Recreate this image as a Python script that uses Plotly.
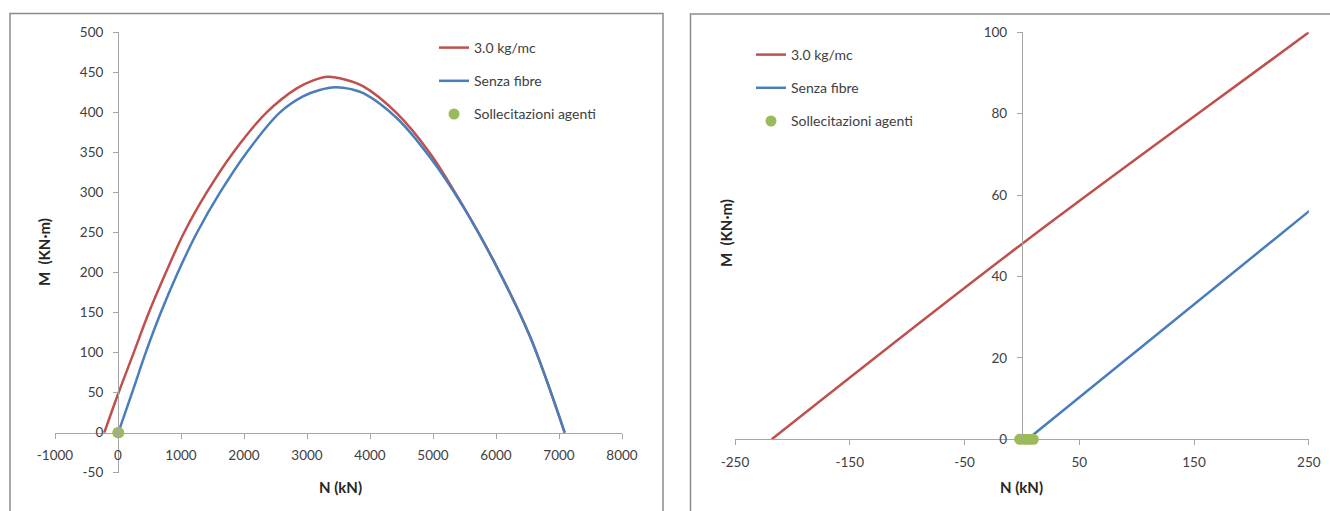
import plotly.graph_objects as go

W, H = 1330, 511

# M-N interaction domain, N in kN, M in kN·m
n_fibre = [-218, 0, 250, 490, 760, 1050, 1408, 1830, 2360, 2837, 3100, 3330, 3600, 3894, 4424, 4952, 5481, 6011, 6540, 7090]
m_fibre = [0, 48, 100, 150, 200, 250, 300, 350, 400, 430, 440, 444.5, 441, 432.5, 399, 349, 282.5, 207.5, 120, 0]

n_plain = [5, 250, 440, 680, 950, 1255, 1620, 2043, 2571, 2937, 3200, 3450, 3700, 3894, 4424, 4952, 5481, 6011, 6540, 7090]
m_plain = [0, 56, 100, 150, 200, 250, 300, 350, 400, 420, 428, 431.5, 429, 424, 393, 344, 282, 207, 120, 0]

# acting loads
n_loads = [-2, 1, 4, 7, 10]
m_loads = [0, 0, 0, 0, 0]

names = ["3.0 kg/mc", "Senza fibre", "Sollecitazioni agenti"]

# tick values and labels
ticks_n_full = [-1000, 0, 1000, 2000, 3000, 4000, 5000, 6000, 7000, 8000]
ticks_m_full = [-50, 0, 50, 100, 150, 200, 250, 300, 350, 400, 450, 500]
ticks_n_zoom = [-250, -150, -50, 50, 150, 250]
ticks_m_zoom = [0, 20, 40, 60, 80, 100]

RED, BLUE, GREEN = "#C0504D", "#4A7EBB", "#9BBB59"
FONT = "Lato, 'Open Sans', sans-serif"
TICK_COLOR = "#404040"
AXIS_COLOR = "#A6A6A6"


def px(x):
    return x / W


def py(y):
    return 1 - y / H


def labels(values):
    return [str(v) for v in values]


fig = go.Figure()

for xa, ya, leg in [("x", "y", "legend"), ("x2", "y2", "legend2")]:
    fig.add_trace(go.Scatter(x=n_fibre, y=m_fibre, mode="lines", name=names[0],
                             line=dict(color=RED, width=2.5, shape="spline"),
                             xaxis=xa, yaxis=ya, legend=leg, legendgroup=f"{leg}a"))
    fig.add_trace(go.Scatter(x=n_plain, y=m_plain, mode="lines", name=names[1],
                             line=dict(color=BLUE, width=2.5, shape="spline"),
                             xaxis=xa, yaxis=ya, legend=leg, legendgroup=f"{leg}b"))
    fig.add_trace(go.Scatter(x=n_loads, y=m_loads, mode="markers", name=names[2],
                             marker=dict(color=GREEN, size=11), cliponaxis=False,
                             xaxis=xa, yaxis=ya, legend=leg, legendgroup=f"{leg}c"))

axis_common = dict(showline=True, linecolor=AXIS_COLOR, linewidth=1, ticks="outside",
                   ticklen=5, tickcolor=AXIS_COLOR, showgrid=False, zeroline=False,
                   tickfont=dict(family=FONT, size=13.5, color=TICK_COLOR), anchor="free",
                   automargin=False, fixedrange=True, tickmode="array")
x_common = dict(ticklabelstandoff=5, **axis_common)
y_common = dict(ticklabelstandoff=7, **axis_common)

legend_common = dict(xanchor="left", yanchor="top", bgcolor="rgba(0,0,0,0)",
                     font=dict(family=FONT, size=14, color=TICK_COLOR),
                     tracegroupgap=12, itemwidth=30)

fig.update_layout(
    width=W, height=H,
    margin=dict(l=0, r=0, t=0, b=0, autoexpand=False),
    paper_bgcolor="white", plot_bgcolor="white",
    showlegend=True,
    xaxis=dict(domain=[px(55), px(622)], range=[-1000, 8000],
               tickvals=ticks_n_full, ticktext=labels(ticks_n_full),
               position=py(432.7), **x_common),
    yaxis=dict(domain=[py(472.7), py(32.3)], range=[-50, 500],
               tickvals=ticks_m_full, ticktext=labels(ticks_m_full),
               position=px(118), **y_common),
    xaxis2=dict(domain=[px(735), px(1308.8)], range=[-250, 250],
                tickvals=ticks_n_zoom, ticktext=labels(ticks_n_zoom),
                position=py(439.3), **x_common),
    yaxis2=dict(domain=[py(439.3), py(32.3)], range=[0, 100],
                tickvals=ticks_m_zoom, ticktext=labels(ticks_m_zoom),
                position=px(1021.9), **y_common),
    legend=dict(x=px(434), y=py(32), **legend_common),
    legend2=dict(x=px(751), y=py(39), **legend_common),
)

title_font = dict(family=FONT, size=15, color="#262626")
for text, x, y, angle in [
    ("<b>M  (KN·m)</b>", 44, 252, -90),
    ("<b>N (kN)</b>", 340, 487, 0),
    ("<b>M  (KN·m)</b>", 726, 233, -90),
    ("<b>N (kN)</b>", 1022, 487, 0),
]:
    fig.add_annotation(text=text, x=px(x), y=py(y), xref="paper", yref="paper",
                       showarrow=False, textangle=angle, font=title_font,
                       xanchor="center", yanchor="middle")

# panel frames
frame = dict(type="rect", xref="paper", yref="paper", layer="below",
             line=dict(color="#8C8C8C", width=1.5), fillcolor="rgba(0,0,0,0)")
fig.add_shape(x0=px(10), x1=px(663), y0=-0.1, y1=py(13.5), **frame)
fig.add_shape(x0=px(690.5), x1=1.1, y0=-0.1, y1=py(14), **frame)

fig.write_html("out.html")
